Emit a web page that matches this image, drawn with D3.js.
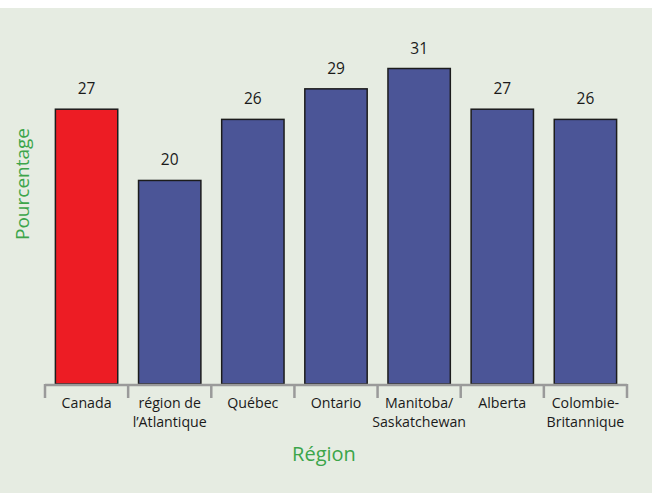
<!DOCTYPE html>
<html lang="fr">
<head>
<meta charset="utf-8">
<script src="https://cdn.jsdelivr.net/npm/d3@7"></script>
<style>
  html, body { margin: 0; padding: 0; background: #ffffff; }
  svg { display: block; }
  text { font-family: "Open Sans", "Noto Sans", sans-serif; }
</style>
</head>
<body>
<svg id="chart" width="652" height="493"></svg>
<script>
// Proportion by region (percent)
const regions = [
  ["Canada"],
  ["région de", "l\u2019Atlantique"],
  ["Québec"],
  ["Ontario"],
  ["Manitoba/", "Saskatchewan"],
  ["Alberta"],
  ["Colombie-", "Britannique"]
];
const values = [27, 20, 26, 29, 31, 27, 26];
const highlight = [true, false, false, false, false, false, false];
const xTitle = "Région";
const yTitle = "Pourcentage";

const svg = d3.select("#chart");
const W = 652, H = 493;

// panel background
svg.append("rect").attr("x", 0).attr("y", 8).attr("width", W).attr("height", H - 8)
  .attr("fill", "#e6ece2");

const baseY = 384;
const x = d3.scaleBand().domain(d3.range(values.length)).range([45, 627])
  .paddingInner(0.25).paddingOuter(0.125);
const y = d3.scaleLinear().domain([0, 31]).range([baseY, 68.5]);

// bars
svg.append("g").selectAll("rect").data(values).join("rect")
  .attr("x", (d, i) => x(i))
  .attr("y", d => y(d))
  .attr("width", x.bandwidth())
  .attr("height", d => baseY - y(d))
  .attr("fill", (d, i) => highlight[i] ? "#ed1c24" : "#4b5597")
  .attr("stroke", "#1c1c1c")
  .attr("stroke-width", 1.5);

// value labels
svg.append("g").selectAll("text").data(values).join("text")
  .attr("x", (d, i) => x(i) + x.bandwidth() / 2)
  .attr("y", d => y(d) - 15)
  .attr("text-anchor", "middle")
  .attr("font-size", 15.5)
  .attr("fill", "#1a1a1a")
  .text(d => d);

// category axis: bracket-style line with ticks at band boundaries
const axisG = svg.append("g").attr("stroke", "#9a9a9a").attr("stroke-width", 2.5).attr("fill", "none");
const edges = d3.range(values.length + 1).map(i => x.range()[0] + i * (x.range()[1] - x.range()[0]) / values.length);
axisG.append("line").attr("x1", edges[0]).attr("x2", edges[edges.length - 1])
  .attr("y1", baseY + 1).attr("y2", baseY + 1);
axisG.selectAll("line.tick").data(edges).join("line").attr("class", "tick")
  .attr("x1", d => d).attr("x2", d => d)
  .attr("y1", baseY).attr("y2", baseY + 14);

// category labels, one text per line
const lines = regions.flatMap((r, i) => r.map((t, j) => ({ t, i, j })));
svg.append("g").selectAll("text").data(lines).join("text")
  .attr("x", d => x(d.i) + x.bandwidth() / 2)
  .attr("y", d => 408 + d.j * 18.5)
  .attr("text-anchor", "middle")
  .attr("font-size", 14.2)
  .attr("fill", "#1a1a1a")
  .text(d => d.t);

// axis titles
svg.append("text").attr("x", 324).attr("y", 461).attr("text-anchor", "middle")
  .attr("font-size", 20).attr("fill", "#3ca54a").text(xTitle);
svg.append("text").attr("transform", "translate(29,184) rotate(-90)")
  .attr("text-anchor", "middle").attr("font-size", 19).attr("fill", "#3ca54a").text(yTitle);
</script>
</body>
</html>
